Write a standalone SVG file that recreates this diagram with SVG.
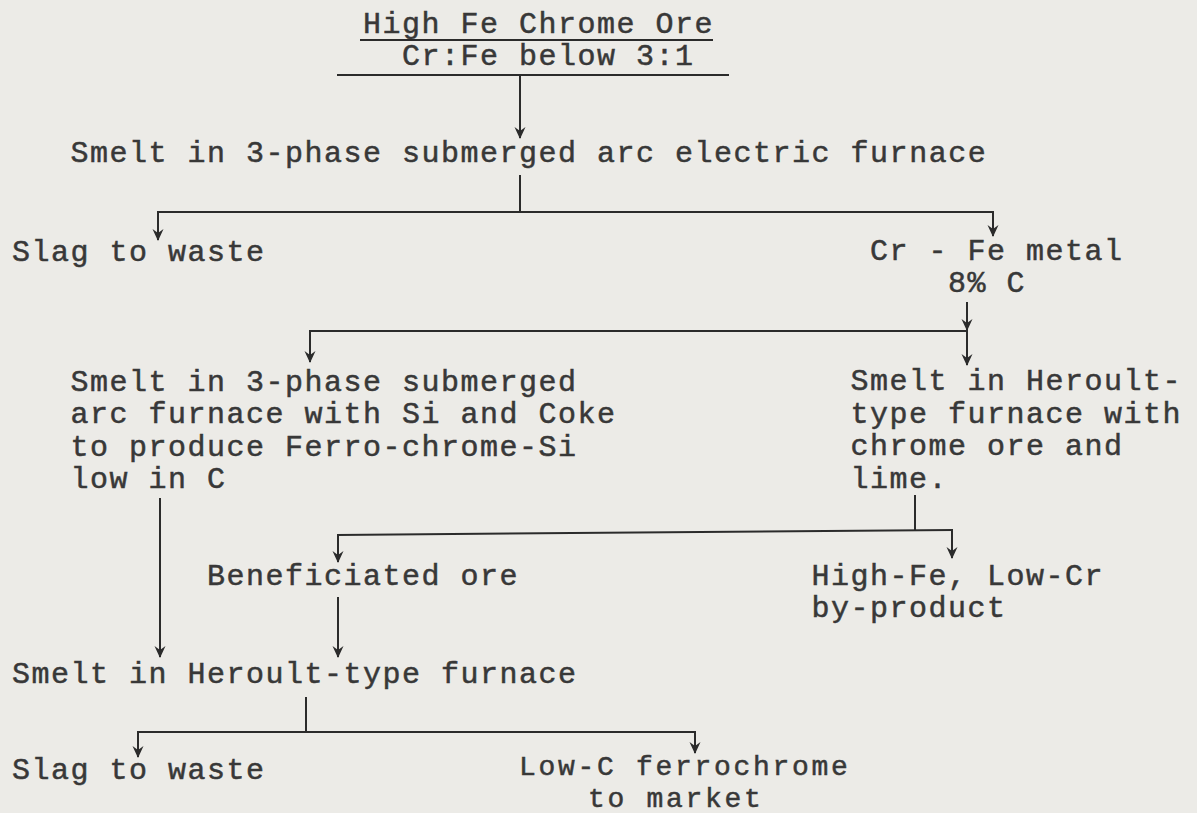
<svg xmlns="http://www.w3.org/2000/svg" width="1197" height="813" viewBox="0 0 1197 813">
<style>
text{font-family:"Liberation Mono","Courier New",monospace;font-size:30px;letter-spacing:1.5px;fill:#383838;stroke:#383838;stroke-width:0.5px}
text.sm{font-size:28px;letter-spacing:2.7px}
.ln{stroke:#2b2b2b;stroke-width:2;fill:none}
.ar{stroke:#2b2b2b;stroke-width:2;fill:none;marker-end:url(#ah)}
</style>
<defs>
<marker id="ah" viewBox="0 0 12 12" refX="11" refY="6" markerWidth="12" markerHeight="12" markerUnits="userSpaceOnUse" orient="auto">
<path d="M0,0.5 L12,6 L0,11.5 L4,6 Z" fill="#2b2b2b"/>
</marker>
</defs>
<rect width="1197" height="813" fill="#ecebe7"/>
<g id="n_ore">
<text x="363" y="33">High Fe Chrome Ore</text>
<line class="ln" x1="360" y1="40" x2="713" y2="40"/>
<text x="402" y="65">Cr:Fe below 3:1</text>
</g>
<g id="n_smelt_arc">
<text x="70.5" y="162">Smelt in 3-phase submerged arc electric furnace</text>
</g>
<g id="n_slag1">
<text x="12" y="261">Slag to waste</text>
</g>
<g id="n_crfe">
<text x="870" y="260">Cr - Fe metal<tspan x="948" y="292">8% C</tspan></text>
</g>
<g id="n_smelt_si">
<text x="70.5" y="391">Smelt in 3-phase submerged<tspan x="70.5" y="423">arc furnace with Si and Coke</tspan><tspan x="70.5" y="455.5">to produce Ferro-chrome-Si</tspan><tspan x="70.5" y="488">low in C</tspan></text>
</g>
<g id="n_smelt_heroult_lime">
<text x="850.5" y="390">Smelt in Heroult-<tspan x="850.5" y="422.5">type furnace with</tspan><tspan x="850.5" y="455">chrome ore and</tspan><tspan x="850.5" y="487.5">lime.</tspan></text>
</g>
<g id="n_benef">
<text x="207" y="585">Beneficiated ore</text>
</g>
<g id="n_byproduct">
<text x="811.5" y="585">High-Fe, Low-Cr<tspan x="811.5" y="617">by-product</tspan></text>
</g>
<g id="n_smelt_heroult">
<text x="12" y="683">Smelt in Heroult-type furnace</text>
</g>
<g id="n_slag2">
<text x="12" y="779">Slag to waste</text>
</g>
<g id="n_lowc">
<text class="sm" x="519" y="775">Low-C ferrochrome<tspan x="588" y="807">to market</tspan></text>
</g>
<g id="connectors">
<line class="ln" x1="337" y1="75" x2="729" y2="75"/>
<line class="ar" x1="520" y1="75" x2="520" y2="138"/>
<line class="ln" x1="520" y1="175" x2="520" y2="212"/>
<line class="ln" x1="157" y1="212" x2="994" y2="212"/>
<line class="ar" x1="158" y1="212" x2="158" y2="240"/>
<line class="ar" x1="993" y1="212" x2="993" y2="236"/>
<line class="ar" x1="967" y1="302" x2="967" y2="330"/>
<line class="ln" x1="309" y1="331" x2="968" y2="331"/>
<line class="ar" x1="310" y1="331" x2="310" y2="362"/>
<line class="ar" x1="967" y1="331" x2="967" y2="365"/>
<line class="ar" x1="160" y1="498" x2="160" y2="657"/>
<line class="ln" x1="915" y1="495" x2="915" y2="531"/>
<line class="ln" x1="337" y1="535" x2="953" y2="530"/>
<line class="ar" x1="338" y1="535" x2="338" y2="562"/>
<line class="ar" x1="952" y1="530" x2="952" y2="558"/>
<line class="ar" x1="338" y1="597" x2="338" y2="657"/>
<line class="ln" x1="306" y1="697" x2="306" y2="732"/>
<line class="ln" x1="137" y1="732" x2="696" y2="732"/>
<line class="ar" x1="138" y1="732" x2="138" y2="757"/>
<line class="ar" x1="695" y1="732" x2="695" y2="753"/>
</g>
</svg>
